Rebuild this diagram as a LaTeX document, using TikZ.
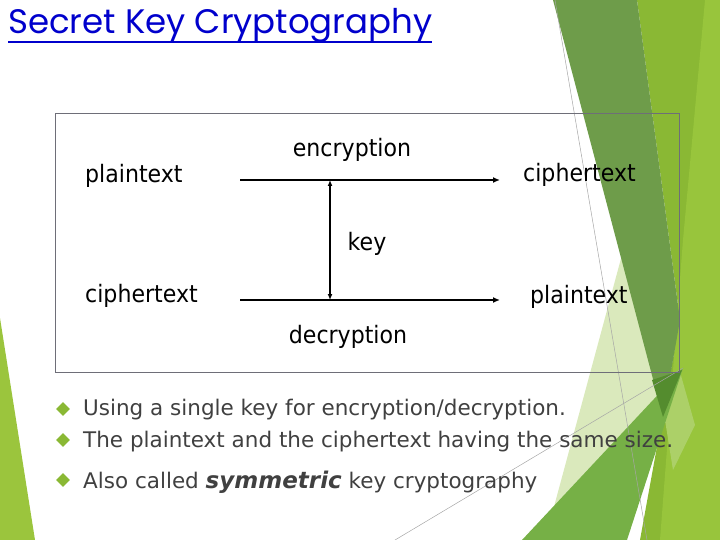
\documentclass[tikz,border=0pt]{standalone}
\usepackage{fontspec}
\setmainfont{DejaVu Sans}[FakeStretch=0.92]
\newfontfamily\titlefont{Poppins}
\newfontfamily\bodyfont{DejaVu Sans}
\usepackage{xcolor}
\usetikzlibrary{arrows.meta, shapes.geometric}

% Facet greens
\definecolor{facetMid}{RGB}{138,184,52}
\definecolor{facetLight}{RGB}{152,197,60}
\definecolor{facetDark}{RGB}{110,156,74}
\definecolor{facetPale}{RGB}{218,233,188}
\definecolor{facetSoft}{RGB}{172,208,104}
\definecolor{facetGrass}{RGB}{118,176,70}
\definecolor{facetDeep}{RGB}{84,140,46}
\definecolor{facetLeft}{RGB}{155,197,61}
\definecolor{titleBlue}{RGB}{0,0,204}
\definecolor{bodyGray}{RGB}{64,64,64}
\definecolor{frameGray}{RGB}{110,110,120}

\begin{document}
\begin{tikzpicture}[x=1pt, y=-1pt,
    lbl/.style={font=\fontsize{24}{28}\selectfont, inner sep=0pt},
    bullettxt/.style={font=\bodyfont\fontsize{21.5}{25}\selectfont, text=bodyGray, inner sep=0pt, anchor=base west},
    bulletmark/.style={diamond, fill=facetMid, inner sep=0pt, minimum size=14pt},
    flow/.style={line width=2pt, -{Latex[length=7pt, width=6pt]}},
    keyflow/.style={line width=1.5pt, {Latex[length=6pt, width=5pt]}-{Latex[length=6pt, width=5pt]}},
    thinline/.style={draw=gray!70, line width=0.5pt}
]
    \useasboundingbox (0,0) rectangle (720,540);

    % Background facets on the right
    \fill[facetMid] (637,0) -- (720,0) -- (720,540) -- (640,540) -- (680,320) -- cycle;
    \fill[facetLight] (705,0) -- (720,0) -- (720,540) -- (660,540) -- (683,240) -- cycle;
    \fill[facetPale] (626,240) -- (668,420) -- (545,540) -- cycle;
    \fill[facetDark] (553,0) -- (637,0) -- (680,320) -- (663,417) -- cycle;
    \fill[facetSoft] (680,372) -- (695,425) -- (673,470) -- (665,420) -- cycle;
    \fill[facetGrass] (522,540) -- (683,368) -- (627,540) -- cycle;
    \fill[facetDeep] (652,380) -- (682,370) -- (663,417) -- cycle;
    \draw[thinline] (555,0) -- (647,540);
    \draw[thinline] (395,540) -- (683,368);

    % Facet on the left
    \fill[facetLeft] (0,318) -- (35,540) -- (0,540) -- cycle;

    % Title
    \node[font=\titlefont\fontsize{34}{38}\selectfont, text=titleBlue, anchor=base west, inner sep=0pt] (title) at (8,34) {Secret Key Cryptography};
    \draw[titleBlue, line width=2pt] (8,42) -- (432,42);

    % Frame
    \draw[frameGray, line width=1pt] (55,114) rectangle (679,372);

    % Labels
    \node[lbl, anchor=base west] (plainIn) at (85,183) {plaintext};
    \node[lbl, anchor=base west] (cipherOut) at (523,182) {ciphertext};
    \node[lbl, anchor=base west] (cipherIn) at (85,302) {ciphertext};
    \node[lbl, anchor=base west] (plainOut) at (530,303) {plaintext};
    \node[lbl, anchor=base] (enc) at (352,157) {encryption};
    \node[lbl, anchor=base] (key) at (367,250) {key};
    \node[lbl, anchor=base] (dec) at (348,343) {decryption};

    % Arrows
    \coordinate (encStart) at (240,180);
    \coordinate (encEnd) at (500,180);
    \coordinate (decStart) at (240,300);
    \coordinate (decEnd) at (500,300);
    \coordinate (keyTop) at (330,180);
    \coordinate (keyBot) at (330,300);
    \draw[flow] (encStart) -- (encEnd);
    \draw[flow] (decStart) -- (decEnd);
    \draw[keyflow] (keyTop) -- (keyBot);

    % Bullet points
    \node[bulletmark] (b1) at (63,409) {};
    \node[bulletmark] (b2) at (63,440) {};
    \node[bulletmark] (b3) at (63,480) {};
    \node[bullettxt] (t1) at (83,415) {Using a single key for encryption/decryption.};
    \node[bullettxt] (t2) at (83,447) {The plaintext and the ciphertext having the same size.};
    \node[bullettxt] (t3) at (83,488) {Also called {\fontsize{23}{27}\selectfont\bfseries\itshape symmetric} key cryptography};
\end{tikzpicture}
\end{document}
